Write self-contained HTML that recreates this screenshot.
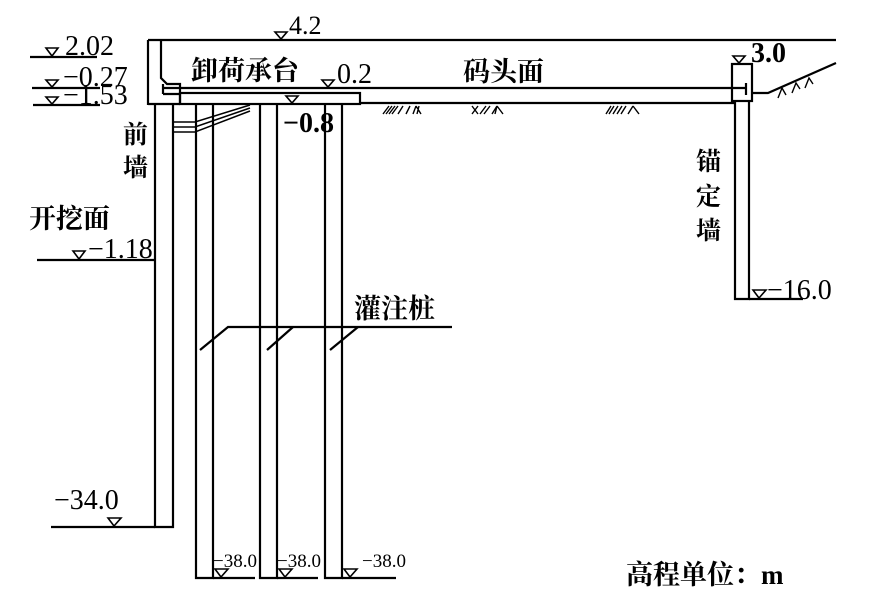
<!DOCTYPE html>
<html><head><meta charset="utf-8"><style>
html,body{margin:0;padding:0;background:#fff}
svg{display:block}
text{font-family:"Liberation Serif","Noto Serif CJK SC",serif;fill:#000}
.c{font-family:"Liberation Serif","Noto Serif CJK SC",serif;font-weight:bold}
</style></head><body>
<svg width="871" height="608" viewBox="0 0 871 608" xmlns="http://www.w3.org/2000/svg">
<g stroke="#000" stroke-width="2.2" fill="none">
<line x1="148" y1="40" x2="836" y2="40"/>
<line x1="148" y1="40" x2="148" y2="105"/>
<path d="M161 40 V78 L167 84 H180 V104"/>
<line x1="163" y1="88" x2="746" y2="88"/>
<line x1="163" y1="84" x2="163" y2="94"/>
<line x1="163" y1="94" x2="180" y2="94"/>
<rect x="180" y="93" width="180" height="11"/>
<line x1="148" y1="104" x2="180" y2="104"/>
<line x1="360" y1="103" x2="735" y2="103"/>
<path d="M155 104 V527 H173 V104"/>
<path d="M196 104 V578 H213 V104"/>
<path d="M260 104 V578 H277 V104"/>
<path d="M325 104 V578 H342 V104"/>
<path d="M173 122 H195 L250 105" stroke-width="1.5"/>
<path d="M173 127 H195 L250 108" stroke-width="1.5"/>
<path d="M173 132 H195 L250 111" stroke-width="1.5"/>
<rect x="732" y="64" width="20" height="37"/>
<path d="M735 101 V299 H749 V101"/>
<line x1="746" y1="83" x2="746" y2="95"/>
<path d="M752 93 H768 L836 63"/>
<line x1="30" y1="57" x2="97" y2="57"/>
<line x1="32" y1="88" x2="100" y2="88"/>
<line x1="33" y1="105" x2="100" y2="105"/>
<line x1="37" y1="260" x2="155" y2="260"/>
<line x1="51" y1="527" x2="155" y2="527"/>
<line x1="213" y1="578" x2="255" y2="578"/>
<line x1="277" y1="578" x2="318" y2="578"/>
<line x1="342" y1="578" x2="396" y2="578"/>
<line x1="749" y1="299" x2="803" y2="299"/>
<path d="M200 350 L228 327 H452"/>
<line x1="267" y1="350" x2="293" y2="327"/>
<line x1="330" y1="350" x2="358" y2="327"/>
</g>
<g stroke="#000" stroke-width="1.6" fill="#fff">
<path d="M46 48 H58 L52 56 Z"/>
<path d="M46 80 H58 L52 87 Z"/>
<path d="M46 97 H58 L52 104 Z"/>
<path d="M275 32 H287 L281 39 Z"/>
<path d="M322 80 H334 L328 87 Z"/>
<path d="M286 96 H298 L292 103 Z"/>
<path d="M733 56 H745 L739 63 Z"/>
<path d="M73 251 H85 L79 259 Z"/>
<path d="M108 518 H121 L114 526 Z"/>
<path d="M215 569 H228 L221 577 Z"/>
<path d="M279 569 H292 L285 577 Z"/>
<path d="M344 569 H357 L350 577 Z"/>
<path d="M753 290 H766 L759 298 Z"/>
</g>
<g stroke="#000" stroke-width="1.4" fill="none">
<path d="M383 114 L389 106 M386 114 L392 106 M389 114 L395 106 M392 114 L398 106 M398 114 L403 106 M406 114 L410 106 M413 114 L416 106 M416 106 L421 114 M417 114 L419 106"/>
<path d="M472 106 L478 114 M472 114 L478 106 M480 114 L486 106 M484 114 L490 106 M492 114 L497 106 M495 114 L497 106 M497 106 L503 114"/>
<path d="M606 114 L611 106 M609 114 L614 106 M613 114 L618 106 M617 114 L622 106 M621 114 L626 106 M628 114 L633 106 M633 106 L639 114"/>
<path d="M778 98 L782 88 L786 95 M792 93 L796 83 L800 89 M805 88 L809 78 L813 84"/>
</g>
<text x="65" y="55" font-size="28">2.02</text>
<text x="63" y="86" font-size="28">−0.27</text>
<text x="63" y="104" font-size="28">−1.53</text>
<text x="289" y="34" font-size="26">4.2</text>
<text x="337" y="83" font-size="28">0.2</text>
<text x="283" y="132" font-size="28" font-weight="bold">−0.8</text>
<text x="751" y="62" font-size="28" font-weight="bold">3.0</text>
<text x="88" y="258" font-size="28">−1.18</text>
<text x="54" y="509" font-size="28">−34.0</text>
<text x="213" y="567" font-size="19">−38.0</text>
<text x="277" y="567" font-size="19">−38.0</text>
<text x="362" y="567" font-size="19">−38.0</text>
<text x="767" y="299" font-size="28">−16.0</text>
<text class="c" x="191" y="80" font-size="27">卸荷承台</text>
<text class="c" x="463" y="81" font-size="27">码头面</text>
<text class="c" x="123" y="143" font-size="25">前</text>
<text class="c" x="123" y="176" font-size="25">墙</text>
<text class="c" x="29" y="228" font-size="27">开挖面</text>
<text class="c" x="354" y="318" font-size="27">灌注桩</text>
<text class="c" x="696" y="170" font-size="25">锚</text>
<text class="c" x="696" y="205" font-size="25">定</text>
<text class="c" x="696" y="239" font-size="25">墙</text>
<text class="c" x="626" y="584" font-size="27">高程单位：m</text>
</svg>
</body></html>
